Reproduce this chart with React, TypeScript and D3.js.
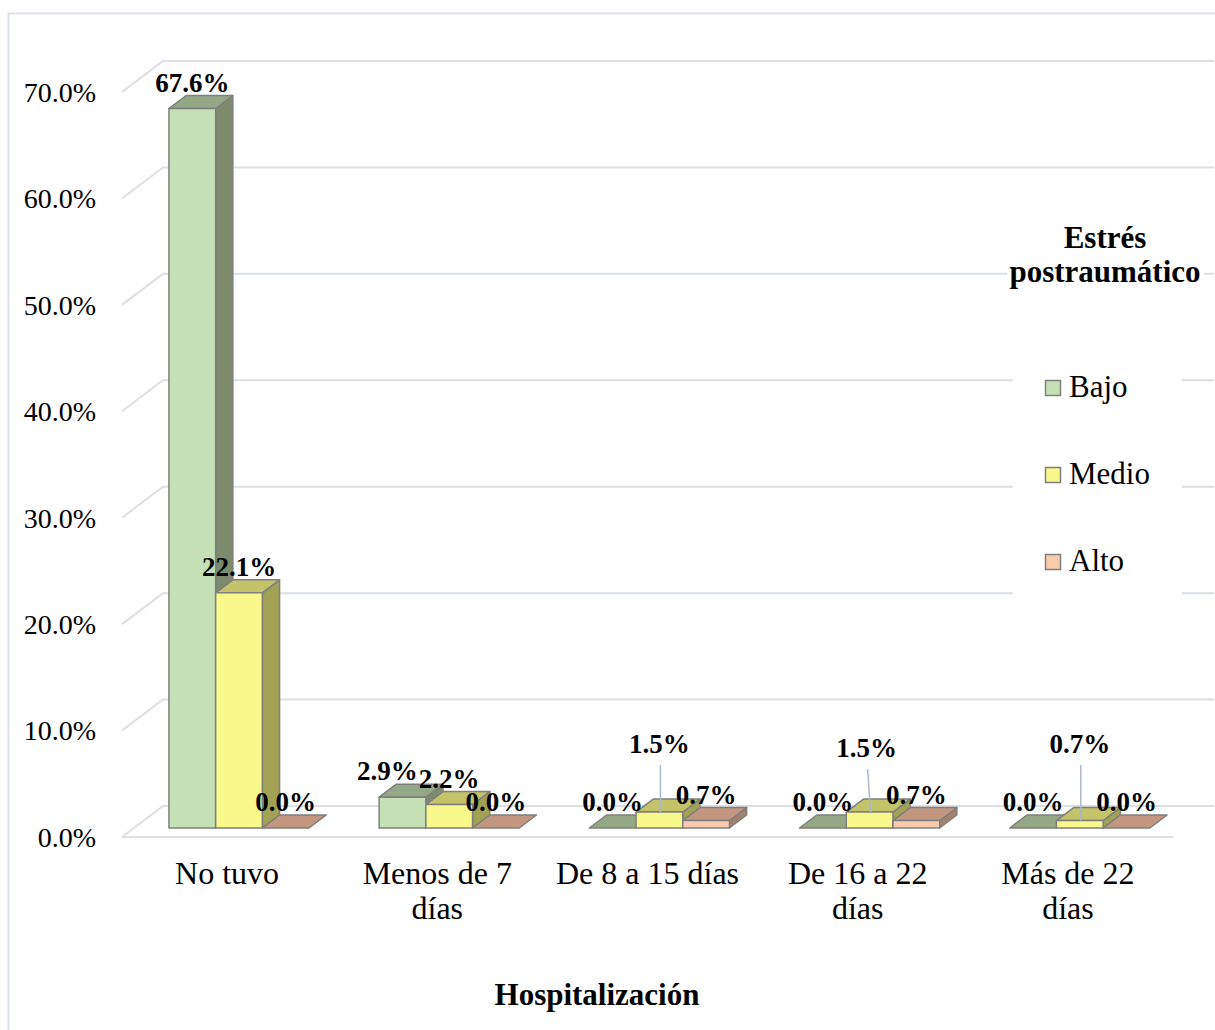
import * as d3 from "d3";
import { useEffect, useRef } from "react";

// hospitalización vs estrés postraumático (porcentajes)
const categories = ["No tuvo", "Menos de 7 días", "De 8 a 15 días", "De 16 a 22 días", "Más de 22 días"];
const categoryLines = [["No tuvo"], ["Menos de 7", "días"], ["De 8 a 15 días"], ["De 16 a 22", "días"], ["Más de 22", "días"]];
const series = ["Bajo", "Medio", "Alto"];
const bajo = [67.6, 2.9, 0.0, 0.0, 0.0];
const medio = [22.1, 2.2, 1.5, 1.5, 0.7];
const alto = [0.0, 0.0, 0.7, 0.7, 0.0];
const yTicks = [0, 10, 20, 30, 40, 50, 60, 70];

const colors: Record<string, { front: string; top: string; side: string }> = {
  Bajo: { front: "#c5e0b4", top: "#94a886", side: "#7d8b6d" },
  Medio: { front: "#f8f98a", top: "#c3c36a", side: "#a2a254" },
  Alto: { front: "#f8cbad", top: "#c3977f", side: "#a5816c" },
};

const W = 1215;
const H = 1030;
const FONT = "'Liberation Serif', 'Times New Roman', serif";

export default function App() {
  const ref = useRef<SVGSVGElement | null>(null);

  useEffect(() => {
    if (!ref.current) return;
    const svg = d3.select(ref.current);
    svg.selectAll("*").remove();

    const values: Record<string, number[]> = { Bajo: bajo, Medio: medio, Alto: alto };

    // 3d floor: front edge y, depth in px, slant
    const floorY = 837;
    const depth = 31;
    const k = 41 / 31;
    const z0 = 9;
    const z1 = 22;

    const y = d3.scaleLinear().domain([0, 70]).range([0, 745]);
    const x0 = d3.scaleBand<string>().domain(categories).range([122, 1173]).paddingInner(1 / 3).paddingOuter(1 / 6);
    const x1 = d3.scaleBand<string>().domain(series).range([0, x0.bandwidth()]);

    const proj = (xf: number, v: number, z: number): [number, number] => [xf + z * k, floorY - y(v) - z];
    const poly = (pts: [number, number][]) => pts.map((p) => p.join(",")).join(" ");

    // chart border
    svg.append("rect")
      .attr("x", 8.5).attr("y", 13.5).attr("width", W).attr("height", H)
      .attr("fill", "white").attr("stroke", "#dde2e9").attr("stroke-width", 2);

    // gridlines
    const grid = svg.append("g").attr("stroke", "#dcdfe4").attr("stroke-width", 2).attr("fill", "none");
    yTicks.forEach((t) => {
      const a = proj(122, t, 0);
      const b = proj(122, t, depth);
      grid.append("polyline").attr("points", poly([a, b, [1214, b[1]]]));
    });
    grid.append("line").attr("x1", 122).attr("x2", 1173).attr("y1", floorY).attr("y2", floorY);

    // y tick labels
    svg.append("g").selectAll("text").data(yTicks).enter().append("text")
      .attr("x", 96).attr("y", (d) => floorY - y(d)).attr("dy", "0.35em")
      .attr("text-anchor", "end").style("font-family", FONT).style("font-size", "28px")
      .text((d) => d.toFixed(1) + "%");

    // bars
    const bars = svg.append("g").attr("stroke", "#7f7f7f").attr("stroke-width", 1.5).attr("stroke-linejoin", "round");
    categories.forEach((c, ci) => {
      series.forEach((s) => {
        const v = values[s][ci];
        const xa = x0(c)! + x1(s)!;
        const xb = xa + x1.bandwidth();
        const col = colors[s];
        if (v > 0) {
          bars.append("polygon").attr("fill", col.side)
            .attr("points", poly([proj(xb, 0, z0), proj(xb, 0, z1), proj(xb, v, z1), proj(xb, v, z0)]));
        }
        bars.append("polygon").attr("fill", col.top)
          .attr("points", poly([proj(xa, v, z0), proj(xb, v, z0), proj(xb, v, z1), proj(xa, v, z1)]));
        if (v > 0) {
          bars.append("polygon").attr("fill", col.front)
            .attr("points", poly([proj(xa, 0, z0), proj(xb, 0, z0), proj(xb, v, z0), proj(xa, v, z0)]));
        }
      });
    });

    // data labels (some nudged / raised with a leader line like in the original)
    const nudge: Record<string, { dx: number; lift?: number }> = {
      "1-Bajo": { dx: -15 },
      "2-Medio": { dx: 0, lift: 84 },
      "3-Medio": { dx: -3, lift: 80 },
      "4-Medio": { dx: 0, lift: 84 },
    };
    const labels = svg.append("g");
    categories.forEach((c, ci) => {
      series.forEach((s) => {
        const v = values[s][ci];
        const xa = x0(c)! + x1(s)!;
        const cx = xa + x1.bandwidth() / 2 + z0 * k;
        const n = nudge[`${ci}-${s}`] || { dx: 0 };
        let by = floorY - y(v) - z1 - 4;
        if (n.lift) {
          by = floorY - n.lift;
          labels.append("line")
            .attr("x1", cx + n.dx + 1).attr("y1", by + 12)
            .attr("x2", cx + 1).attr("y2", floorY - y(v) - z0)
            .attr("stroke", "#a9b8cb").attr("stroke-width", 1.5);
        }
        labels.append("text")
          .attr("x", cx + n.dx).attr("y", by)
          .attr("text-anchor", "middle").style("font-family", FONT)
          .style("font-size", "27px").style("font-weight", "bold")
          .text(v.toFixed(1) + "%");
      });
    });

    // category labels
    categories.forEach((c, ci) => {
      const t = svg.append("text")
        .attr("x", x0(c)! + x0.bandwidth() / 2).attr("y", 884)
        .attr("text-anchor", "middle").style("font-family", FONT).style("font-size", "32px");
      categoryLines[ci].forEach((line, li) => {
        t.append("tspan").attr("x", x0(c)! + x0.bandwidth() / 2).attr("y", 884 + li * 35).text(line);
      });
    });

    // axis title
    svg.append("text").attr("x", 597).attr("y", 1005).attr("text-anchor", "middle")
      .style("font-family", FONT).style("font-size", "31px").style("font-weight", "bold")
      .text("Hospitalización");

    // legend
    svg.append("rect").attr("x", 1007).attr("y", 222).attr("width", 197).attr("height", 68).attr("fill", "white");
    svg.append("rect").attr("x", 1013).attr("y", 300).attr("width", 169).attr("height", 310).attr("fill", "white");
    const lt = svg.append("text").attr("text-anchor", "middle")
      .style("font-family", FONT).style("font-size", "31px").style("font-weight", "bold");
    lt.append("tspan").attr("x", 1105).attr("y", 248).text("Estrés");
    lt.append("tspan").attr("x", 1105).attr("y", 282).text("postraumático");

    series.forEach((s, i) => {
      svg.append("rect")
        .attr("x", 1045.5).attr("y", 380.5 + i * 87).attr("width", 15).attr("height", 15)
        .attr("fill", colors[s].front).attr("stroke", "#7f7f7f").attr("stroke-width", 1.5);
      svg.append("text")
        .attr("x", 1069).attr("y", 397 + i * 87)
        .style("font-family", FONT).style("font-size", "31px")
        .text(s);
    });
  }, []);

  return (
    <svg ref={ref} width={W} height={H} style={{ position: "absolute", left: 0, top: 0, background: "white" }} />
  );
}
